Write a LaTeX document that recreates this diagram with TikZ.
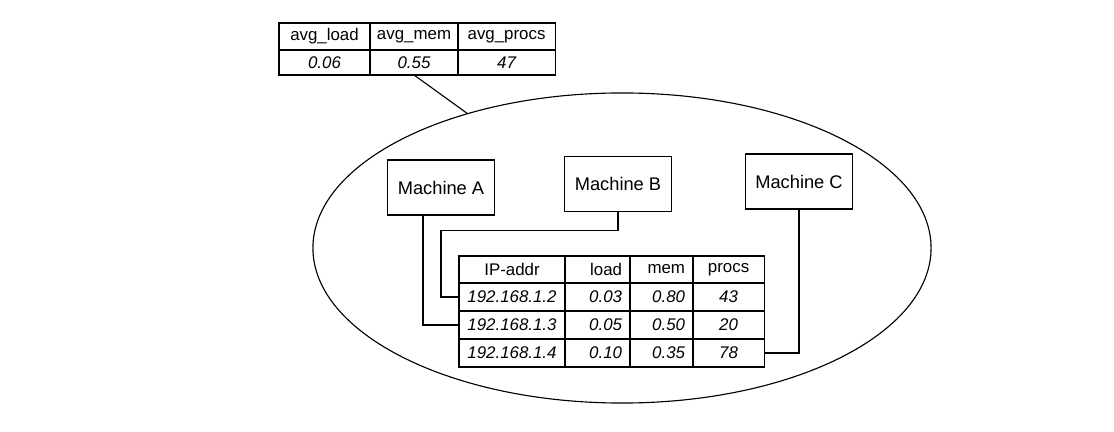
\documentclass[tikz,border=0pt]{standalone}
\usepackage{fontspec}
\setmainfont{Liberation Sans}
\usetikzlibrary{shapes,positioning}

\begin{document}
\begin{tikzpicture}[x=0.025cm,y=-0.025cm]
\tikzset{
machine/.style={rectangle,draw=black,line width=0.8pt,minimum width=2.675cm,minimum height=1.375cm,
font=\fontsize{13}{15}\selectfont},
cell/.style={rectangle,draw=black,line width=0.8pt,inner sep=0pt,outer sep=0pt,text centered,
font=\fontsize{12}{14}\selectfont},
val/.style={cell,font=\fontsize{12}{14}\selectfont\itshape},
rightcol/.style={align=right,text width=#1},
cluster/.style={ellipse,draw=black,line width=0.8pt,minimum width=15.45cm,minimum height=7.75cm},
myline/.style={line width=0.8pt},
}
\useasboundingbox (0,0) rectangle (1114,432);

% the whole group
\node [cluster] (group) at (622,248) {};

% averaged values
\node [cell, minimum width=2.275cm, minimum height=0.675cm] (avgload) at (324.5,36.5) {avg\_load};
\node [cell, minimum width=2.2cm, minimum height=0.675cm, right=0pt of avgload] (avgmem) {avg\_mem};
\node [cell, minimum width=2.425cm, minimum height=0.675cm, right=0pt of avgmem] (avgprocs) {avg\_procs};
\node [val, minimum width=2.275cm, minimum height=0.625cm, below=0pt of avgload] (vload) {0.06};
\node [val, minimum width=2.2cm, minimum height=0.625cm, below=0pt of avgmem] (vmem) {0.55};
\node [val, minimum width=2.425cm, minimum height=0.625cm, below=0pt of avgprocs] (vprocs) {47};

% machines
\node [machine] (ma) at (441,187.5) {Machine A};
\node [machine] (mb) at (618,184) {Machine B};
\node [machine] (mc) at (799,181.5) {Machine C};

% per machine table
\node [cell, minimum width=2.65cm, minimum height=0.675cm] (iphead) at (512,269.5) {IP-addr};
\node [cell, rightcol=1.225cm, minimum width=1.625cm, minimum height=0.675cm, right=0pt of iphead] (loadhead) {load};
\node [cell, rightcol=1.175cm, minimum width=1.575cm, minimum height=0.675cm, right=0pt of loadhead] (memhead) {mem};
\node [cell, minimum width=1.775cm, minimum height=0.675cm, right=0pt of memhead] (prochead) {procs};

\node [val, minimum width=2.65cm, minimum height=0.7cm, below=0pt of iphead] (ip2) {192.168.1.2};
\node [val, rightcol=1.225cm, minimum width=1.625cm, minimum height=0.7cm, below=0pt of loadhead] (ld2) {0.03};
\node [val, rightcol=1.175cm, minimum width=1.575cm, minimum height=0.7cm, below=0pt of memhead] (mm2) {0.80};
\node [val, minimum width=1.775cm, minimum height=0.7cm, below=0pt of prochead] (pr2) {43};

\node [val, minimum width=2.65cm, minimum height=0.7cm, below=0pt of ip2] (ip3) {192.168.1.3};
\node [val, rightcol=1.225cm, minimum width=1.625cm, minimum height=0.7cm, below=0pt of ld2] (ld3) {0.05};
\node [val, rightcol=1.175cm, minimum width=1.575cm, minimum height=0.7cm, below=0pt of mm2] (mm3) {0.50};
\node [val, minimum width=1.775cm, minimum height=0.7cm, below=0pt of pr2] (pr3) {20};

\node [val, minimum width=2.65cm, minimum height=0.7cm, below=0pt of ip3] (ip4) {192.168.1.4};
\node [val, rightcol=1.225cm, minimum width=1.625cm, minimum height=0.7cm, below=0pt of ld3] (ld4) {0.10};
\node [val, rightcol=1.175cm, minimum width=1.575cm, minimum height=0.7cm, below=0pt of mm3] (mm4) {0.35};
\node [val, minimum width=1.775cm, minimum height=0.7cm, below=0pt of pr3] (pr4) {78};

\draw[myline] (vmem.south) -- (group.139.5);
\draw[myline] ([xshift=-0.45cm]ma.south) |- (ip3.west);
\draw[myline] (mb.south) -- ++(0,18) -| ([xshift=-0.45cm]ip2.west) -- (ip2.west);
\draw[myline] (mc.south) |- (pr4.east);
\end{tikzpicture}
\end{document}
